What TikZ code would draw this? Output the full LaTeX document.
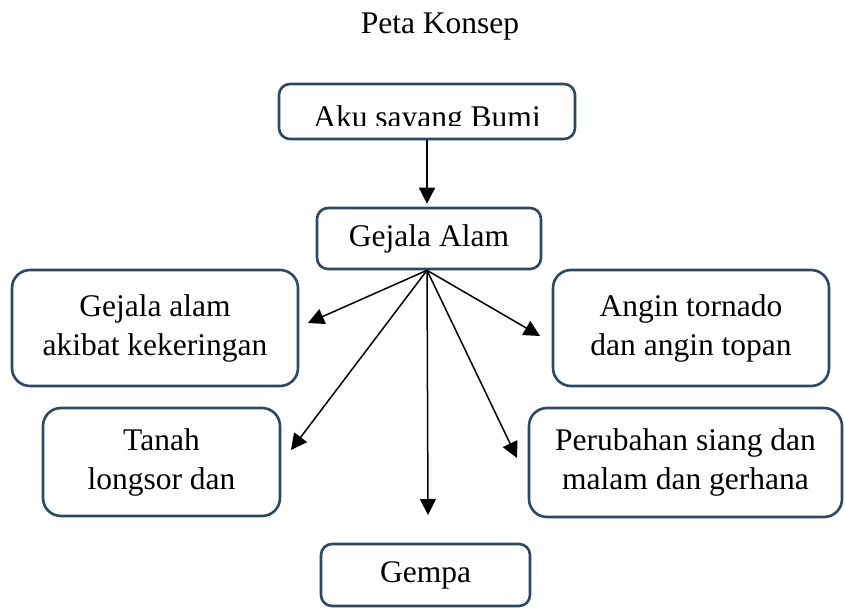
\documentclass[tikz,border=0pt]{standalone}
\usepackage{fontspec}
\setmainfont{Liberation Serif}
\usetikzlibrary{arrows.meta,positioning}
\definecolor{garisbiru}{RGB}{44,72,104}

\begin{document}
\begin{tikzpicture}[x=0.5pt,y=-0.5pt,
  every node/.style={font=\fontsize{15.75}{19.5}\selectfont},
  kotak/.style={draw=garisbiru,line width=1.3pt,rounded corners=9pt,align=center,inner sep=0pt},
  panah/.style={-{Triangle[length=8pt,width=8pt]},line width=0.75pt}]
\useasboundingbox (0,0) rectangle (845,614);

\node (judul) at (440,27) {Peta Konsep};

% kotak atas: teksnya terpotong di bawah, seperti aslinya
\node[kotak,rounded corners=5.5pt,minimum width=148pt,minimum height=27.5pt] (aku) at (427,111.5) {};
\begin{scope}
  \clip (279,84) rectangle (575,125.5);
  \node[anchor=base] (akuteks) at (427,128) {Aku sayang Bumi};
\end{scope}

\node[kotak,rounded corners=5.5pt,minimum width=112pt,minimum height=30.5pt] (gejala) at (429,238.5) {Gejala Alam};

\node[kotak,minimum width=143pt,minimum height=58pt] (kering) at (155,328)
  {Gejala alam\\akibat kekeringan};
\node[kotak,minimum width=138pt,minimum height=58pt] (angin) at (691,328)
  {Angin tornado\\dan angin topan};
\node[kotak,minimum width=118.5pt,minimum height=54pt] (tanah) at (161.5,462)
  {Tanah\\longsor dan};
\node[kotak,minimum width=156.5pt,minimum height=54.5pt] (siang) at (685.5,462.5)
  {Perubahan siang dan\\malam dan gerhana};
\node[kotak,rounded corners=5.5pt,minimum width=104.5pt,minimum height=31pt] (gempa) at (425.5,575) {Gempa};

% ujung panah tidak menyentuh kotak
\coordinate (ujungkering) at (308,323);
\coordinate (ujungangin) at (540,336);
\coordinate (ujungtanah) at (291,450);
\coordinate (ujungsiang) at (517,458);
\coordinate (ujunggempa) at (428,515);

\draw[panah,shorten >=1.5pt] (aku.south) -- (aku.south |- gejala.north);
\foreach \u in {ujungkering,ujungangin,ujungtanah,ujungsiang,ujunggempa}
  \draw[panah] ([xshift=-1pt]gejala.south) -- (\u);
\end{tikzpicture}
\end{document}
